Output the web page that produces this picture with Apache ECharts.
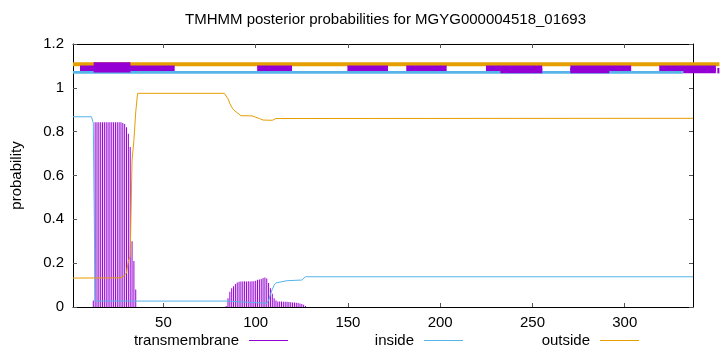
<!DOCTYPE html>
<html>
<head>
<meta charset="utf-8">
<script src="https://cdn.jsdelivr.net/npm/echarts@6/dist/echarts.min.js"></script>
<style>
html,body{margin:0;padding:0;background:#fff;}
#chart{width:720px;height:352px;}
</style>
</head>
<body>
<div id="chart"></div>
<script>
// ---------- data ----------
const titleText = 'TMHMM posterior probabilities for MGYG000004518_01693';
const seqMin = 1, seqMax = 337;
const xTicks = [50, 100, 150, 200, 250, 300];
const yTicks = [0, 0.2, 0.4, 0.6, 0.8, 1, 1.2];

// transmembrane posterior (impulses), [residue, probability]
const tmValues = [
  [12,0.03],
  [13,0.843],[14,0.843],[15,0.843],[16,0.843],[17,0.843],[18,0.843],[19,0.843],[20,0.843],
  [21,0.843],[22,0.843],[23,0.843],[24,0.843],[25,0.843],[26,0.843],[27,0.843],
  [28,0.84],[29,0.835],[30,0.82],[31,0.79],[32,0.73],[33,0.30],[34,0.21],[35,0.08],
  [84,0.005],[85,0.04],[86,0.07],[87,0.085],[88,0.095],[89,0.105],[90,0.112],[91,0.115],
  [92,0.116],[93,0.116],[94,0.117],[95,0.116],[96,0.117],[97,0.116],[98,0.117],[99,0.118],
  [100,0.12],[101,0.124],[102,0.126],[103,0.128],[104,0.132],[105,0.135],[106,0.13],
  [107,0.11],[108,0.085],[109,0.06],[110,0.04],[111,0.03],
  [112,0.025],[113,0.025],[114,0.025],[115,0.024],[116,0.024],[117,0.024],[118,0.023],[119,0.022],
  [120,0.02],[121,0.02],[122,0.019],[123,0.018],[124,0.016],[125,0.014],[126,0.01],[127,0.005]
];

// inside posterior (line), [residue, probability]
const insideValues = [
  [1,0.868],[11,0.868],[12,0.84],[13,0.027],[84,0.027],[85,0.019],[106,0.017],
  [107,0.03],[108,0.058],[109,0.08],[110,0.1],[111,0.11],[112,0.116],[117,0.12],
  [118,0.123],[125,0.123],[126,0.13],[127,0.138],[337,0.138]
];

// outside posterior (line), [residue, probability]
const outsideValues = [
  [1,0.132],[27,0.133],[28,0.14],[29,0.145],[30,0.155],[31,0.21],[32,0.23],[33,0.67],
  [34,0.76],[35,0.89],[36,0.975],[83,0.975],[84,0.968],[85,0.95],[86,0.928],[87,0.912],
  [88,0.9],[89,0.893],[90,0.886],[91,0.878],[92,0.873],[98,0.872],[99,0.87],[100,0.866],
  [101,0.864],[102,0.86],[103,0.856],[104,0.853],[109,0.852],[110,0.856],[111,0.86],
  [112,0.861],[337,0.861]
];

// predicted topology strip at the top, [start, end] residues
const topoOutside = [[1, 351.3]];
const topoInside = [[1, 331.5]];
const topoTM = [[4.8,56.1],[100.8,119.7],[149.7,171.7],[181.6,203.5],[224.8,255.3],[270.5,303.5],[318.7,349.4]];
const topoTMUpper = [[12.2,32.1]];
const topoTMLower = [[232.6,255.3],[270.5,291.6],[331.7,349.4],[350.2,351.3]];

// ---------- chart ----------
const C_TM = '#9400D3', C_IN = '#56B4E9', C_OUT = '#E69F00';
const FONT = 'Liberation Sans';

// band style per topology kind: [yLow, yHigh, color]
const bands = {
  out: [1.099, 1.117, C_OUT],
  inn: [1.064, 1.077, C_IN],
  tm: [1.077, 1.102, C_TM],
  tmUp: [1.070, 1.117, C_TM],
  tmLow: [1.066, 1.091, C_TM]
};
function stripData(list, kind) {
  return list.map(s => [s[0], s[1], kind]);
}
const stripItems = [].concat(
  stripData(topoOutside, 'out'),
  stripData(topoInside, 'inn'),
  stripData(topoTM, 'tm'),
  stripData(topoTMUpper, 'tmUp'),
  stripData(topoTMLower, 'tmLow')
);

const chart = echarts.init(document.getElementById('chart'), null, {renderer: 'canvas'});

const axisCommonX = {
  type: 'value', min: seqMin, max: seqMax,
  splitLine: {show: false},
  axisLine: {show: true, onZero: false, lineStyle: {color: '#000', width: 1}},
  axisTick: {show: true, inside: true, length: 4, customValues: xTicks, lineStyle: {color: '#555'}},
};
const axisCommonY = {
  type: 'value', min: 0, max: 1.2, interval: 0.2,
  splitLine: {show: false},
  axisLine: {show: true, onZero: false, lineStyle: {color: '#000', width: 1}},
  axisTick: {show: true, inside: true, length: 4, lineStyle: {color: '#555'}},
};

function legendFor(name, color, right) {
  return {
    right: right, top: 333, padding: 0, align: 'right',
    icon: 'rect', itemWidth: 39, itemHeight: 1,
    data: [{name: name, itemStyle: {color: color}}],
    textStyle: {fontFamily: FONT, fontSize: 15, color: '#000', padding: [0, 5, 0, 0]},
    selectedMode: false
  };
}

chart.setOption({
  animation: false,
  backgroundColor: '#fff',
  title: {
    text: titleText, left: 185, top: 12, padding: 0,
    textStyle: {fontFamily: FONT, fontSize: 15, fontWeight: 'normal', color: '#000'}
  },
  grid: {left: 73, right: 27, top: 44, bottom: 45, containLabel: false},
  legend: [
    legendFor('transmembrane', C_TM, 432),
    legendFor('inside', C_IN, 257),
    legendFor('outside', C_OUT, 81)
  ],
  xAxis: [
    Object.assign({}, axisCommonX, {
      position: 'bottom',
      axisLabel: {show: true, customValues: xTicks, margin: 8, fontFamily: FONT, fontSize: 15, color: '#000'}
    }),
    Object.assign({}, axisCommonX, {position: 'top', axisLabel: {show: false}})
  ],
  yAxis: [
    Object.assign({}, axisCommonY, {
      position: 'left',
      name: 'probability', nameLocation: 'middle', nameRotate: 90, nameGap: 49,
      nameTextStyle: {fontFamily: FONT, fontSize: 15, color: '#000'},
      axisLabel: {show: true, margin: 9, fontFamily: FONT, fontSize: 15, color: '#000',
        formatter: v => String(Math.round(v * 10) / 10)}
    }),
    Object.assign({}, axisCommonY, {position: 'right', axisLabel: {show: false}})
  ],
  series: [
    {
      name: 'inside', type: 'line', xAxisIndex: 0, yAxisIndex: 0,
      data: insideValues, symbol: 'none', showSymbol: false,
      lineStyle: {color: C_IN, width: 1}, itemStyle: {color: C_IN}, z: 3
    },
    {
      name: 'outside', type: 'line', xAxisIndex: 0, yAxisIndex: 0,
      data: outsideValues, symbol: 'none', showSymbol: false,
      lineStyle: {color: C_OUT, width: 1}, itemStyle: {color: C_OUT}, z: 3
    },
    {
      name: 'transmembrane', type: 'bar', xAxisIndex: 0, yAxisIndex: 0,
      data: tmValues, barWidth: 1, itemStyle: {color: C_TM}, z: 2
    },
    {
      name: 'topology', type: 'custom', xAxisIndex: 0, yAxisIndex: 0,
      clip: false, z: 4, silent: true,
      data: stripItems,
      renderItem: function (params, api) {
        const b = bands[stripItems[params.dataIndex][2]];
        const p1 = api.coord([api.value(0), b[1]]);
        const p2 = api.coord([api.value(1), b[0]]);
        return {
          type: 'rect',
          shape: {x: p1[0], y: p1[1], width: p2[0] - p1[0], height: p2[1] - p1[1]},
          style: {fill: b[2]}
        };
      }
    }
  ]
});
</script>
</body>
</html>
